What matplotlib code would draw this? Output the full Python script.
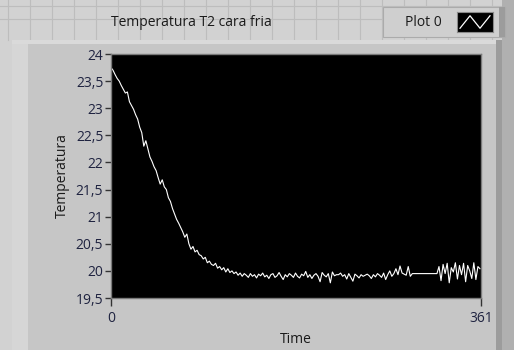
import matplotlib
matplotlib.use("Agg")
import matplotlib.pyplot as plt
import numpy as np
from matplotlib.patches import Rectangle

plt.rcParams['font.family'] = ['Open Sans', 'DejaVu Sans']

# --- data (one sample every 2 time units) ---
temp_decay = [
    23.75, 23.70, 23.62, 23.55, 23.50, 23.42, 23.35, 23.28, 23.30, 23.12,
    23.05, 22.98, 22.88, 22.80, 22.65, 22.55, 22.30, 22.40, 22.25, 22.10,
    22.02, 21.92, 21.85, 21.72, 21.60, 21.68, 21.55, 21.50, 21.35, 21.28,
    21.15, 21.05, 20.95, 20.88, 20.80, 20.72, 20.62, 20.68, 20.50, 20.40,
    20.45, 20.35, 20.38, 20.30, 20.28, 20.22, 20.25, 20.15, 20.18, 20.12,
    20.10, 20.14, 20.05, 20.08, 20.02, 20.06, 19.98, 20.04, 19.97, 20.00,
    19.95, 19.98, 19.92, 19.96, 19.90, 19.95,
]
temp_flat_a = [
    19.92, 19.88, 19.95, 19.90, 19.93, 19.87, 19.94, 19.91, 19.96, 19.89,
    19.92, 19.86, 19.93, 19.95, 19.88, 19.91, 19.97, 19.90, 19.84, 19.93,
    19.89, 19.95, 19.92, 19.88, 19.96, 19.90, 19.87, 19.94, 19.91, 19.99,
    19.88, 19.93, 19.86, 19.92, 19.95,
]
temp_flat_b = [
    19.90, 19.80, 19.97, 19.92, 19.89, 19.95, 19.78, 19.98, 19.91, 19.93,
    19.93, 19.96, 19.90, 19.93, 19.85, 19.95, 19.88, 19.81, 19.94, 19.91,
    19.87, 19.93, 19.90, 19.92, 19.94, 19.91, 19.86, 19.93, 19.89, 19.95,
]
temp_flat_c = [
    19.92, 19.88, 19.96, 19.84, 19.93, 20.00, 19.90, 19.95, 20.04, 19.93,
    20.09, 19.96, 19.94, 19.92, 20.08, 19.90, 19.95, 19.95, 19.95,
]
temp_hold = [19.95] * 10
temp_noisy = [
    20.08, 19.82, 20.12, 19.95, 20.14, 19.78, 20.06, 19.98, 20.15, 19.85,
    20.10, 19.93, 20.14, 19.80, 20.10, 20.00, 19.86, 20.15, 19.84, 20.08,
    20.04,
]
temperature = temp_decay + temp_flat_a + temp_flat_b + temp_flat_c + temp_hold + temp_noisy
time = np.arange(0, 2 * len(temperature), 2)

y_ticks = [19.5, 20, 20.5, 21, 21.5, 22, 22.5, 23, 23.5, 24]
x_ticks = [0, 361]

title = "Temperatura T2 cara fria"
legend_label = "Plot 0"

# --- figure / LabVIEW-like panel ---
W, H = 514, 350
fig = plt.figure(figsize=(W / 100, H / 100), dpi=100)
fig.patch.set_facecolor('#d2d2d2')


def px_rect(x0, y0, x1, y1, zorder=-5, **kw):
    """Rectangle given in image pixel coords (y down), drawn behind the axes."""
    fig.patches.append(Rectangle((x0 / W, 1 - y1 / H), (x1 - x0) / W, (y1 - y0) / H,
                                 transform=fig.transFigure, zorder=zorder, **kw))


# panel grid in the top strip
for gx in range(8, W, 22):
    fig.add_artist(plt.Line2D([gx / W, gx / W], [1 - 40 / H, 1], transform=fig.transFigure,
                              color='#bdbdbd', lw=0.8, zorder=-10))
for gy in (6, 19):
    fig.add_artist(plt.Line2D([0, 1], [1 - gy / H, 1 - gy / H], transform=fig.transFigure,
                              color='#bdbdbd', lw=0.8, zorder=-10))

# chart body
px_rect(12, 40, 502, 350, facecolor='#c6c6c6', edgecolor='none')
px_rect(12, 40, 28, 350, facecolor='#d6d6d6', edgecolor='none')
px_rect(12, 40, 502, 44, facecolor='#dadada', edgecolor='none')
px_rect(496, 40, 502, 350, facecolor='#9c9c9c', edgecolor='none')
px_rect(502, 0, 514, 350, facecolor='#b0b0b0', edgecolor='none')

fig.text(191 / W, 1 - 23 / H, title, ha='center', va='center', fontsize=10, color='#1a1a1a')

# legend box
px_rect(383, 7, 505, 37, facecolor='#cfcfcf', edgecolor='#ababab', lw=0.8)
px_rect(499, 7, 505, 37, facecolor='#9c9c9c', edgecolor='none')
fig.text(423 / W, 1 - 22 / H, legend_label, ha='center', va='center', fontsize=10, color='#1a1a1a')
lax = fig.add_axes([457 / W, 1 - 32 / H, 36 / W, 20 / H])
lax.set_facecolor('black')
lax.plot([0, 1, 2, 3], [0, 1, 0, 1], color='white', lw=0.9)
lax.set_xlim(-0.3, 3.3)
lax.set_ylim(-0.3, 1.3)
lax.set_xticks([])
lax.set_yticks([])
for s in lax.spines.values():
    s.set_color('#8a8a8a')
    s.set_linewidth(0.8)

# --- plot area ---
ax = fig.add_axes([111 / W, 1 - 298 / H, 370 / W, 244 / H])
ax.set_facecolor('black')
ax.plot(time, temperature, color='white', lw=0.8)
ax.set_xlim(0, 361)
ax.set_ylim(19.5, 24)

ax.set_yticks(y_ticks)
ax.set_yticklabels([f"{v:g}".replace('.', ',') for v in y_ticks])
ax.set_xticks(x_ticks)
ax.set_xticklabels([str(v) for v in x_ticks])
ax.tick_params(axis='both', length=4, width=1, color='#333333', labelsize=10,
               labelcolor='#1f2340', pad=1.5)
ax.tick_params(axis='x', length=6, pad=3)
for s in ax.spines.values():
    s.set_color('#7a7a7a')
    s.set_linewidth(1)

ax.set_ylabel("Temperatura", fontsize=10, color='#1a1a1a', labelpad=4)
ax.set_xlabel("Time", fontsize=10, color='#1a1a1a', labelpad=5)

fig.savefig("out.png", dpi=100, facecolor=fig.get_facecolor())
